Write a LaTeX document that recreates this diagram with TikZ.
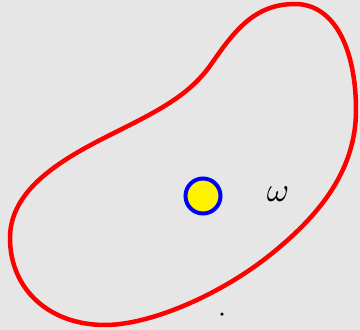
\documentclass[tikz,border=0pt]{standalone}
\usepackage{amsmath,amssymb}
\usetikzlibrary{positioning}
\definecolor{bggrey}{RGB}{230,230,230}
\tikzset{
  boundary/.style={line width=4.5pt,red},
  hole/.style={circle,draw=blue,fill=yellow,line width=4pt,minimum size=35pt,inner sep=0pt},
  pt/.style={circle,fill=black,inner sep=0pt,minimum size=3.5pt},
  lab/.style={inner sep=0pt,scale=3.4}
}
\begin{document}
\begin{tikzpicture}[x=1pt,y=-1pt]
  \fill[bggrey] (0,0) rectangle (360,330);
  \useasboundingbox (0,0) rectangle (360,330);
  % domain boundary
  \draw[boundary] (295,4) .. controls (335,4) and (356,50) .. (356,110)
    .. controls (356,170) and (320,215) .. (270,255)
    .. controls (220,295) and (150,325) .. (105,325)
    .. controls (50,325) and (10,290) .. (10,238)
    .. controls (10,190) and (60,160) .. (110,135)
    .. controls (160,110) and (190,95) .. (212,63)
    .. controls (235,30) and (255,4) .. (295,4) -- cycle;
  \node[hole] (obst) at (203,196) {};
  \node[lab] (omega) at (278,194) {$\omega$};
  \node[pt] (p) at (222,314) {};
\end{tikzpicture}
\end{document}
